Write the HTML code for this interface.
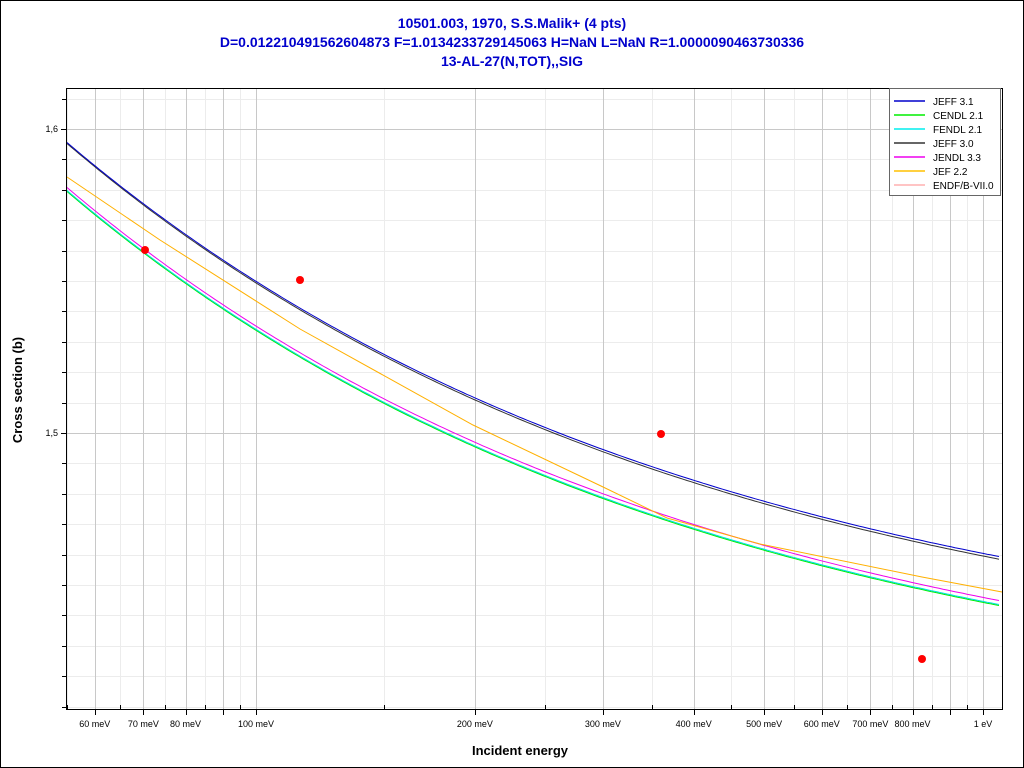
<!DOCTYPE html>
<html><head><style>
body{margin:0;background:#fff;}
svg{display:block;font-family:"Liberation Sans",sans-serif;}
</style></head><body>
<svg id="s" width="1024" height="768" xmlns="http://www.w3.org/2000/svg">
<rect x="0.5" y="0.5" width="1023" height="767" fill="#fff" stroke="#000"/>
<g fill="#0000cc" font-size="14" text-anchor="middle" font-weight="bold">
<text x="512" y="28">10501.003, 1970, S.S.Malik+ (4 pts)</text>
<text x="512" y="47">D=0.012210491562604873 F=1.0134233729145063 H=NaN L=NaN R=1.0000090463730336</text>
<text x="512" y="66">13-AL-27(N,TOT),,SIG</text>
</g>
<g id="grid"></g>
<g id="curves" fill="none" stroke-width="1"></g>
<g fill="#f00">
<circle cx="145" cy="250" r="4"/><circle cx="300" cy="280" r="4"/><circle cx="661" cy="434" r="4"/><circle cx="922" cy="659" r="4"/>
</g>
<rect x="66.5" y="88.5" width="936" height="621" fill="none" stroke="#000"/>
<g id="ticks" stroke="#000"></g>
<g id="labels" font-size="9" fill="#000"></g>
<text x="520" y="755" font-size="13" font-weight="bold" text-anchor="middle">Incident energy</text>
<text transform="translate(22,390) rotate(-90)" font-size="13" font-weight="bold" text-anchor="middle">Cross section (b)</text>
<g>
<rect x="889.5" y="88.5" width="111" height="107" fill="#fff" stroke="#666"/>
<g stroke-width="1.5">
<line x1="894" y1="101" x2="925" y2="101" stroke="#0000cc"/>
<line x1="894" y1="115" x2="925" y2="115" stroke="#00ee00"/>
<line x1="894" y1="129" x2="925" y2="129" stroke="#00eeee"/>
<line x1="894" y1="143" x2="925" y2="143" stroke="#333"/>
<line x1="894" y1="157" x2="925" y2="157" stroke="#ee00ee"/>
<line x1="894" y1="171" x2="925" y2="171" stroke="#ffc000"/>
<line x1="894" y1="185" x2="925" y2="185" stroke="#ffb0b0"/>
</g>
<g font-size="10" fill="#000">
<text x="933" y="105">JEFF 3.1</text><text x="933" y="119">CENDL 2.1</text><text x="933" y="133">FENDL 2.1</text>
<text x="933" y="147">JEFF 3.0</text><text x="933" y="161">JENDL 3.3</text><text x="933" y="175">JEF 2.2</text>
<text x="933" y="189">ENDF/B-VII.0</text>
</g>
</g>
<script>
var NS="http://www.w3.org/2000/svg";
function el(p,t,a){var e=document.createElementNS(NS,t);for(var k in a)e.setAttribute(k,a[k]);document.getElementById(p).appendChild(e);return e;}
function X(E){return 256+727*(Math.log10(E)+1);}
function Y(v){return 433-(v-1.5)*3040;}
var majors=[0.06,0.07,0.08,0.09,0.1,0.2,0.3,0.4,0.5,0.6,0.7,0.8,0.9,1.0];
var minors=[0.055,0.065,0.075,0.085,0.095,0.15,0.25,0.35,0.45,0.55,0.65,0.75,0.85,0.95];
minors.forEach(function(E){var x=Math.round(X(E))+0.5;el("grid","line",{x1:x,x2:x,y1:89,y2:709,stroke:"#ececec"});el("ticks","line",{x1:x,x2:x,y1:709,y2:705});});
for(var i=0;i<30;i++){var v=1.41+i*0.01;var y=Math.round(Y(v))+0.5;if(y<89||y>709)continue;var mj=Math.abs(v-1.5)<1e-6||Math.abs(v-1.6)<1e-6;el("grid","line",{x1:67,x2:1002,y1:y,y2:y,stroke:mj?"#c8c8c8":"#ececec"});el("ticks","line",{x1:66,x2:mj?61:62,y1:y,y2:y});}
majors.forEach(function(E){var x=Math.round(X(E))+0.5;el("grid","line",{x1:x,x2:x,y1:89,y2:709,stroke:"#c8c8c8"});el("ticks","line",{x1:x,x2:x,y1:709,y2:715});});
var lab={0.06:"60 meV",0.07:"70 meV",0.08:"80 meV",0.1:"100 meV",0.2:"200 meV",0.3:"300 meV",0.4:"400 meV",0.5:"500 meV",0.6:"600 meV",0.7:"700 meV",0.8:"800 meV",1.0:"1 eV"};
for(var k in lab){var t=el("labels","text",{x:X(+k),y:727,"text-anchor":"middle"});t.textContent=lab[k];}
[[1.6,"1,6"],[1.5,"1,5"]].forEach(function(p){var t=el("labels","text",{x:58,y:Y(p[0])+3,"text-anchor":"end"});t.textContent=p[1];});
function curve(y0,k,col){var pts=[];for(var x=67;x<=1002;x+=4){var E=Math.pow(10,(x-256)/727-1);var u=1/Math.sqrt(E);pts.push(x+","+(y0+k*(4.27-u)).toFixed(1));}el("curves","polyline",{points:pts.join(" "),stroke:col});}
curve(191,125.8,"#00ee00");
curve(190,125.8,"#00e0e0");
curve(187,125.5,"#ee00ee");
el("curves","polyline",{points:"67,177 160,240 300,329 473,425 601,486 667,518 760,544 922,577 1002,592",stroke:"#ffb000"});
curve(143,126.3,"#333333");
curve(142,125.8,"#0000cc");
</script>
</svg>
</body></html>
